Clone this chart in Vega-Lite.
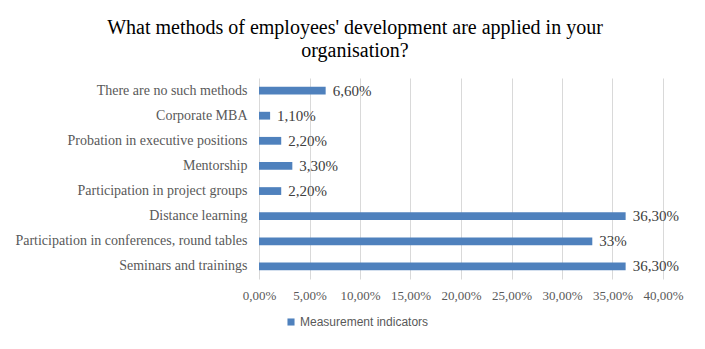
{
  "$schema": "https://vega.github.io/schema/vega-lite/v6.json",
  "width": 404,
  "height": 201,
  "autosize": {"type": "none"},
  "padding": {"left": 259, "top": 78, "right": 42, "bottom": 70},
  "background": "white",
  "title": {
    "text": ["What methods of employees' development are applied in your", "organisation?"],
    "font": "Liberation Serif",
    "fontSize": 20,
    "fontWeight": "normal",
    "color": "#000000",
    "lineHeight": 23,
    "anchor": "middle",
    "dx": -106,
    "offset": 17
  },
  "data": {
    "values": [
      {"method": "There are no such methods", "share": 0.066, "label": "6,60%", "series": "Measurement indicators"},
      {"method": "Corporate MBA", "share": 0.011, "label": "1,10%", "series": "Measurement indicators"},
      {"method": "Probation in executive positions ", "share": 0.022, "label": "2,20%", "series": "Measurement indicators"},
      {"method": "Mentorship", "share": 0.033, "label": "3,30%", "series": "Measurement indicators"},
      {"method": "Participation in project groups ", "share": 0.022, "label": "2,20%", "series": "Measurement indicators"},
      {"method": "Distance learning ", "share": 0.363, "label": "36,30%", "series": "Measurement indicators"},
      {"method": "Participation in conferences, round tables", "share": 0.33, "label": "33%", "series": "Measurement indicators"},
      {"method": "Seminars and trainings ", "share": 0.363, "label": "36,30%", "series": "Measurement indicators"}
    ]
  },
  "encoding": {
    "y": {
      "field": "method",
      "type": "nominal",
      "sort": null,
      "scale": {"paddingInner": 0.69, "paddingOuter": 0.345},
      "axis": {
        "title": null,
        "domain": false,
        "ticks": false,
        "labelFont": "Liberation Serif",
        "labelFontSize": 14,
        "labelColor": "#595959",
        "labelPadding": 12,
        "labelLimit": 300
      }
    },
    "x": {
      "field": "share",
      "type": "quantitative",
      "scale": {"domain": [0, 0.4], "nice": false},
      "axis": {
        "title": null,
        "format": ".2%",
        "values": [0, 0.05, 0.1, 0.15, 0.2, 0.25, 0.3, 0.35, 0.4],
        "labelOverlap": false,
        "labelBound": false,
        "labelFlush": false,
        "domain": false,
        "ticks": false,
        "grid": true,
        "gridColor": "#d9d9d9",
        "gridWidth": 1,
        "labelFont": "Liberation Serif",
        "labelFontSize": 13,
        "labelColor": "#595959",
        "labelPadding": 10
      }
    }
  },
  "layer": [
    {
      "mark": {"type": "bar"},
      "encoding": {
        "color": {
          "field": "series",
          "type": "nominal",
          "scale": {"range": ["#4f81bd"]},
          "legend": {
            "title": null,
            "orient": "none",
            "legendX": 26,
            "legendY": 238,
            "symbolType": "square",
            "symbolSize": 50,
            "symbolStrokeWidth": 0,
            "labelFont": "Liberation Sans",
            "labelFontSize": 12,
            "labelColor": "#595959",
            "labelOffset": 3
          }
        }
      }
    },
    {
      "mark": {
        "type": "text",
        "align": "left",
        "baseline": "middle",
        "dx": 7,
        "font": "Liberation Serif",
        "fontSize": 15,
        "color": "#404040"
      },
      "encoding": {"text": {"field": "label"}}
    }
  ],
  "config": {
    "view": {"stroke": null},
    "locale": {
      "number": {"decimal": ",", "thousands": " ", "grouping": [3], "currency": ["", ""]}
    }
  }
}
